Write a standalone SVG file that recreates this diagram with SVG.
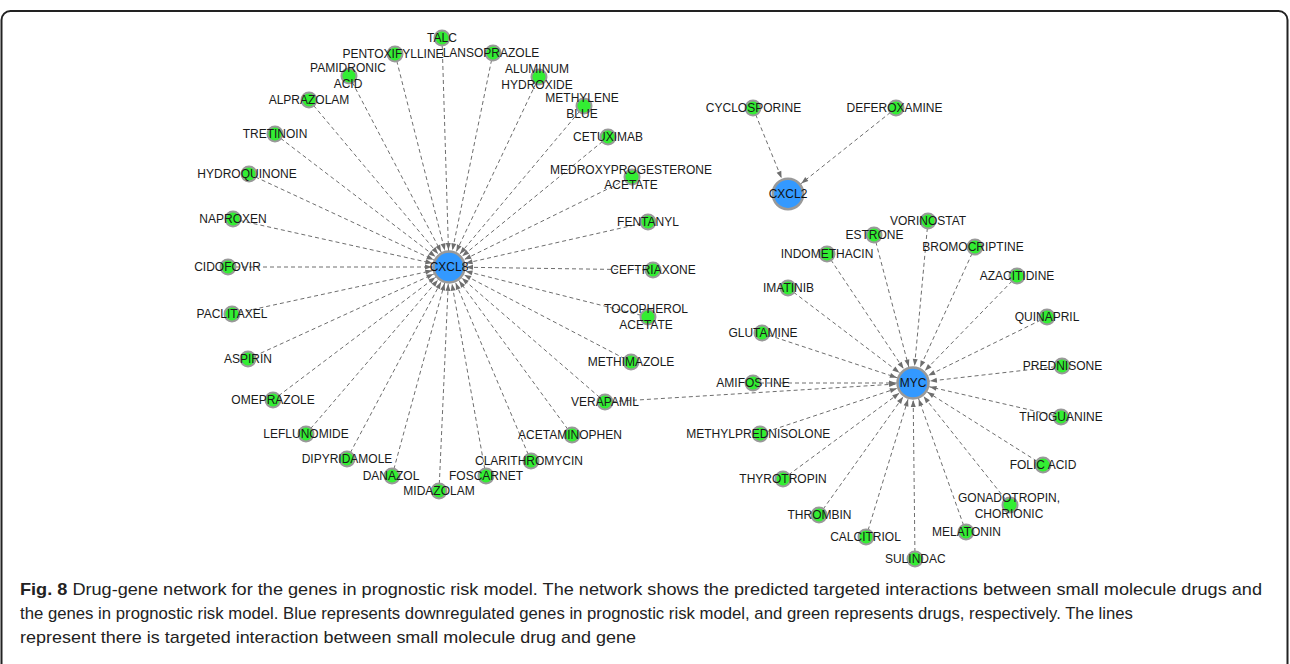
<svg xmlns="http://www.w3.org/2000/svg" width="1290" height="664" viewBox="0 0 1290 664">
<style>
.e{stroke:#6e6e6e;stroke-width:1;stroke-dasharray:4 3;fill:none}
.d{fill:#33ee33;stroke:#999;stroke-width:2}
.g{fill:#3399ff;stroke:#999;stroke-width:2.5}
text{font-family:"Liberation Sans",Arial,sans-serif}
.l{font-size:12px;fill:#1a1a1a;text-anchor:middle}
.gl{font-size:12px;fill:#111;text-anchor:middle}
.cap{font-family:"Liberation Sans Narrow","Liberation Sans",Arial,sans-serif;font-size:17px;fill:#222}
</style>
<defs>
<marker id="ah" markerUnits="userSpaceOnUse" markerWidth="7" markerHeight="5" refX="24" refY="2.5" orient="auto" overflow="visible">
<path d="M0,0 L7,2.5 L0,5 z" fill="#6e6e6e"/>
</marker>
</defs>
<rect x="1.5" y="11" width="1286" height="680" rx="9" fill="none" stroke="#222" stroke-width="2"/>
<g id="connectors" marker-end="url(#ah)">
<line class="e" x1="442" y1="38" x2="449" y2="267" marker-end="url(#ah)"/>
<line class="e" x1="395" y1="54" x2="449" y2="267" marker-end="url(#ah)"/>
<line class="e" x1="493" y1="53" x2="449" y2="267" marker-end="url(#ah)"/>
<line class="e" x1="349" y1="76" x2="449" y2="267" marker-end="url(#ah)"/>
<line class="e" x1="309" y1="100" x2="449" y2="267" marker-end="url(#ah)"/>
<line class="e" x1="275" y1="134" x2="449" y2="267" marker-end="url(#ah)"/>
<line class="e" x1="249" y1="174" x2="449" y2="267" marker-end="url(#ah)"/>
<line class="e" x1="539" y1="77" x2="449" y2="267" marker-end="url(#ah)"/>
<line class="e" x1="584" y1="106" x2="449" y2="267" marker-end="url(#ah)"/>
<line class="e" x1="608" y1="137" x2="449" y2="267" marker-end="url(#ah)"/>
<line class="e" x1="632" y1="177" x2="449" y2="267" marker-end="url(#ah)"/>
<line class="e" x1="648" y1="222" x2="449" y2="267" marker-end="url(#ah)"/>
<line class="e" x1="653" y1="270" x2="449" y2="267" marker-end="url(#ah)"/>
<line class="e" x1="648" y1="317" x2="449" y2="267" marker-end="url(#ah)"/>
<line class="e" x1="631" y1="362" x2="449" y2="267" marker-end="url(#ah)"/>
<line class="e" x1="605" y1="402" x2="449" y2="267" marker-end="url(#ah)"/>
<line class="e" x1="572" y1="435" x2="449" y2="267" marker-end="url(#ah)"/>
<line class="e" x1="531" y1="461" x2="449" y2="267" marker-end="url(#ah)"/>
<line class="e" x1="486" y1="476" x2="449" y2="267" marker-end="url(#ah)"/>
<line class="e" x1="439" y1="491" x2="449" y2="267" marker-end="url(#ah)"/>
<line class="e" x1="392" y1="476" x2="449" y2="267" marker-end="url(#ah)"/>
<line class="e" x1="347" y1="459" x2="449" y2="267" marker-end="url(#ah)"/>
<line class="e" x1="306" y1="434" x2="449" y2="267" marker-end="url(#ah)"/>
<line class="e" x1="273" y1="400" x2="449" y2="267" marker-end="url(#ah)"/>
<line class="e" x1="248" y1="359" x2="449" y2="267" marker-end="url(#ah)"/>
<line class="e" x1="232" y1="314" x2="449" y2="267" marker-end="url(#ah)"/>
<line class="e" x1="228" y1="267" x2="449" y2="267" marker-end="url(#ah)"/>
<line class="e" x1="233" y1="219" x2="449" y2="267" marker-end="url(#ah)"/>
<line class="e" x1="753" y1="108" x2="788" y2="194" marker-end="url(#ah)"/>
<line class="e" x1="896" y1="108" x2="788" y2="194" marker-end="url(#ah)"/>
<line class="e" x1="928" y1="221" x2="913" y2="383" marker-end="url(#ah)"/>
<line class="e" x1="874" y1="235" x2="913" y2="383" marker-end="url(#ah)"/>
<line class="e" x1="827" y1="254" x2="913" y2="383" marker-end="url(#ah)"/>
<line class="e" x1="975" y1="247" x2="913" y2="383" marker-end="url(#ah)"/>
<line class="e" x1="788" y1="288" x2="913" y2="383" marker-end="url(#ah)"/>
<line class="e" x1="1017" y1="276" x2="913" y2="383" marker-end="url(#ah)"/>
<line class="e" x1="1047" y1="317" x2="913" y2="383" marker-end="url(#ah)"/>
<line class="e" x1="762" y1="333" x2="913" y2="383" marker-end="url(#ah)"/>
<line class="e" x1="1062" y1="366" x2="913" y2="383" marker-end="url(#ah)"/>
<line class="e" x1="753" y1="383" x2="913" y2="383" marker-end="url(#ah)"/>
<line class="e" x1="605" y1="402" x2="913" y2="383" marker-end="url(#ah)"/>
<line class="e" x1="1061" y1="417" x2="913" y2="383" marker-end="url(#ah)"/>
<line class="e" x1="1043" y1="465" x2="913" y2="383" marker-end="url(#ah)"/>
<line class="e" x1="760" y1="434" x2="913" y2="383" marker-end="url(#ah)"/>
<line class="e" x1="783" y1="479" x2="913" y2="383" marker-end="url(#ah)"/>
<line class="e" x1="819" y1="515" x2="913" y2="383" marker-end="url(#ah)"/>
<line class="e" x1="866" y1="537" x2="913" y2="383" marker-end="url(#ah)"/>
<line class="e" x1="915" y1="559" x2="913" y2="383" marker-end="url(#ah)"/>
<line class="e" x1="966" y1="532" x2="913" y2="383" marker-end="url(#ah)"/>
<line class="e" x1="1010" y1="505" x2="913" y2="383" marker-end="url(#ah)"/>
</g>
<g id="CXCL8"><circle class="g" cx="449" cy="267" r="15.5"/><text class="gl" x="449" y="271.3">CXCL8</text></g>
<g id="CXCL2"><circle class="g" cx="788" cy="194" r="15.2"/><text class="gl" x="788" y="198.3">CXCL2</text></g>
<g id="MYC"><circle class="g" cx="913" cy="383" r="15.5"/><text class="gl" x="913" y="387.3">MYC</text></g>
<g id="TALC"><circle class="d" cx="442" cy="38" r="7.5"/><text class="l" x="442" y="42.3">TALC</text></g>
<g id="PENTOXIFYLLINE"><circle class="d" cx="395" cy="54" r="7.5"/><text class="l" x="393" y="58.3">PENTOXIFYLLINE</text></g>
<g id="LANSOPRAZOLE"><circle class="d" cx="493" cy="53" r="7.5"/><text class="l" x="491" y="57.3">LANSOPRAZOLE</text></g>
<g id="PAMIDRONIC_ACID"><circle class="d" cx="349" cy="76" r="7.5"/><text class="l" x="348" y="72">PAMIDRONIC</text><text class="l" x="348" y="87.6">ACID</text></g>
<g id="ALPRAZOLAM"><circle class="d" cx="309" cy="100" r="7.5"/><text class="l" x="309" y="104.3">ALPRAZOLAM</text></g>
<g id="TRETINOIN"><circle class="d" cx="275" cy="134" r="7.5"/><text class="l" x="275" y="138.3">TRETINOIN</text></g>
<g id="HYDROQUINONE"><circle class="d" cx="249" cy="174" r="7.5"/><text class="l" x="247" y="178.3">HYDROQUINONE</text></g>
<g id="ALUMINUM_HYDROXIDE"><circle class="d" cx="539" cy="77" r="7.5"/><text class="l" x="537" y="72.6">ALUMINUM</text><text class="l" x="537" y="88.6">HYDROXIDE</text></g>
<g id="METHYLENE_BLUE"><circle class="d" cx="584" cy="106" r="7.5"/><text class="l" x="582" y="102">METHYLENE</text><text class="l" x="582" y="118.3">BLUE</text></g>
<g id="CETUXIMAB"><circle class="d" cx="608" cy="137" r="7.5"/><text class="l" x="608" y="141.3">CETUXIMAB</text></g>
<g id="MEDROXYPROGESTERONE_ACETATE"><circle class="d" cx="632" cy="177" r="7.5"/><text class="l" x="631" y="173.6">MEDROXYPROGESTERONE</text><text class="l" x="631" y="189.3">ACETATE</text></g>
<g id="FENTANYL"><circle class="d" cx="648" cy="222" r="7.5"/><text class="l" x="648" y="226.3">FENTANYL</text></g>
<g id="CEFTRIAXONE"><circle class="d" cx="653" cy="270" r="7.5"/><text class="l" x="653" y="274.3">CEFTRIAXONE</text></g>
<g id="TOCOPHEROL_ACETATE"><circle class="d" cx="648" cy="317" r="7.5"/><text class="l" x="646" y="313.3">TOCOPHEROL</text><text class="l" x="646" y="329.3">ACETATE</text></g>
<g id="METHIMAZOLE"><circle class="d" cx="631" cy="362" r="7.5"/><text class="l" x="631" y="366.3">METHIMAZOLE</text></g>
<g id="VERAPAMIL"><circle class="d" cx="605" cy="402" r="7.5"/><text class="l" x="605" y="406.3">VERAPAMIL</text></g>
<g id="ACETAMINOPHEN"><circle class="d" cx="572" cy="435" r="7.5"/><text class="l" x="570" y="439.3">ACETAMINOPHEN</text></g>
<g id="CLARITHROMYCIN"><circle class="d" cx="531" cy="461" r="7.5"/><text class="l" x="529" y="465.3">CLARITHROMYCIN</text></g>
<g id="FOSCARNET"><circle class="d" cx="486" cy="476" r="7.5"/><text class="l" x="486" y="480.3">FOSCARNET</text></g>
<g id="MIDAZOLAM"><circle class="d" cx="439" cy="491" r="7.5"/><text class="l" x="439" y="495.3">MIDAZOLAM</text></g>
<g id="DANAZOL"><circle class="d" cx="392" cy="476" r="7.5"/><text class="l" x="391" y="480.3">DANAZOL</text></g>
<g id="DIPYRIDAMOLE"><circle class="d" cx="347" cy="459" r="7.5"/><text class="l" x="347" y="463.3">DIPYRIDAMOLE</text></g>
<g id="LEFLUNOMIDE"><circle class="d" cx="306" cy="434" r="7.5"/><text class="l" x="306" y="438.3">LEFLUNOMIDE</text></g>
<g id="OMEPRAZOLE"><circle class="d" cx="273" cy="400" r="7.5"/><text class="l" x="273" y="404.3">OMEPRAZOLE</text></g>
<g id="ASPIRIN"><circle class="d" cx="248" cy="359" r="7.5"/><text class="l" x="248" y="363.3">ASPIRIN</text></g>
<g id="PACLITAXEL"><circle class="d" cx="232" cy="314" r="7.5"/><text class="l" x="232" y="318.3">PACLITAXEL</text></g>
<g id="CIDOFOVIR"><circle class="d" cx="228" cy="267" r="7.5"/><text class="l" x="227.5" y="271.3">CIDOFOVIR</text></g>
<g id="NAPROXEN"><circle class="d" cx="233" cy="219" r="7.5"/><text class="l" x="233" y="223.3">NAPROXEN</text></g>
<g id="CYCLOSPORINE"><circle class="d" cx="753" cy="108" r="7.5"/><text class="l" x="753.5" y="112.3">CYCLOSPORINE</text></g>
<g id="DEFEROXAMINE"><circle class="d" cx="896" cy="108" r="7.5"/><text class="l" x="894.5" y="112.3">DEFEROXAMINE</text></g>
<g id="VORINOSTAT"><circle class="d" cx="928" cy="221" r="7.5"/><text class="l" x="928" y="225.3">VORINOSTAT</text></g>
<g id="ESTRONE"><circle class="d" cx="874" cy="235" r="7.5"/><text class="l" x="874.5" y="239.3">ESTRONE</text></g>
<g id="INDOMETHACIN"><circle class="d" cx="827" cy="254" r="7.5"/><text class="l" x="827" y="258.3">INDOMETHACIN</text></g>
<g id="BROMOCRIPTINE"><circle class="d" cx="975" cy="247" r="7.5"/><text class="l" x="973" y="251.3">BROMOCRIPTINE</text></g>
<g id="IMATINIB"><circle class="d" cx="788" cy="288" r="7.5"/><text class="l" x="788.5" y="292.3">IMATINIB</text></g>
<g id="AZACITIDINE"><circle class="d" cx="1017" cy="276" r="7.5"/><text class="l" x="1017" y="280.3">AZACITIDINE</text></g>
<g id="QUINAPRIL"><circle class="d" cx="1047" cy="317" r="7.5"/><text class="l" x="1047" y="321.3">QUINAPRIL</text></g>
<g id="GLUTAMINE"><circle class="d" cx="762" cy="333" r="7.5"/><text class="l" x="763" y="337.3">GLUTAMINE</text></g>
<g id="PREDNISONE"><circle class="d" cx="1062" cy="366" r="7.5"/><text class="l" x="1062.5" y="370.3">PREDNISONE</text></g>
<g id="AMIFOSTINE"><circle class="d" cx="753" cy="383" r="7.5"/><text class="l" x="753" y="387.3">AMIFOSTINE</text></g>
<g id="THIOGUANINE"><circle class="d" cx="1061" cy="417" r="7.5"/><text class="l" x="1061" y="421.3">THIOGUANINE</text></g>
<g id="FOLIC_ACID"><circle class="d" cx="1043" cy="465" r="7.5"/><text class="l" x="1043" y="469.3">FOLIC ACID</text></g>
<g id="METHYLPREDNISOLONE"><circle class="d" cx="760" cy="434" r="7.5"/><text class="l" x="758.3" y="438.3">METHYLPREDNISOLONE</text></g>
<g id="THYROTROPIN"><circle class="d" cx="783" cy="479" r="7.5"/><text class="l" x="783" y="483.3">THYROTROPIN</text></g>
<g id="THROMBIN"><circle class="d" cx="819" cy="515" r="7.5"/><text class="l" x="819.5" y="519.3">THROMBIN</text></g>
<g id="CALCITRIOL"><circle class="d" cx="866" cy="537" r="7.5"/><text class="l" x="865.5" y="541.3">CALCITRIOL</text></g>
<g id="SULINDAC"><circle class="d" cx="915" cy="559" r="7.5"/><text class="l" x="915.3" y="563.3">SULINDAC</text></g>
<g id="MELATONIN"><circle class="d" cx="966" cy="532" r="7.5"/><text class="l" x="966.5" y="536.3">MELATONIN</text></g>
<g id="GONADOTROPIN_CHORIONIC"><circle class="d" cx="1010" cy="505" r="7.5"/><text class="l" x="1009" y="501.6">GONADOTROPIN,</text><text class="l" x="1009" y="517.6">CHORIONIC</text></g>
<g id="caption">
<text class="cap" x="20" y="595" textLength="1242" lengthAdjust="spacingAndGlyphs"><tspan font-weight="bold">Fig. 8</tspan> Drug-gene network for the genes in prognostic risk model. The network shows the predicted targeted interactions between small molecule drugs and</text>
<text class="cap" x="20" y="619" textLength="1113" lengthAdjust="spacingAndGlyphs">the genes in prognostic risk model. Blue represents downregulated genes in prognostic risk model, and green represents drugs, respectively. The lines</text>
<text class="cap" x="20" y="643" textLength="616" lengthAdjust="spacingAndGlyphs">represent there is targeted interaction between small molecule drug and gene</text>
</g>
</svg>
